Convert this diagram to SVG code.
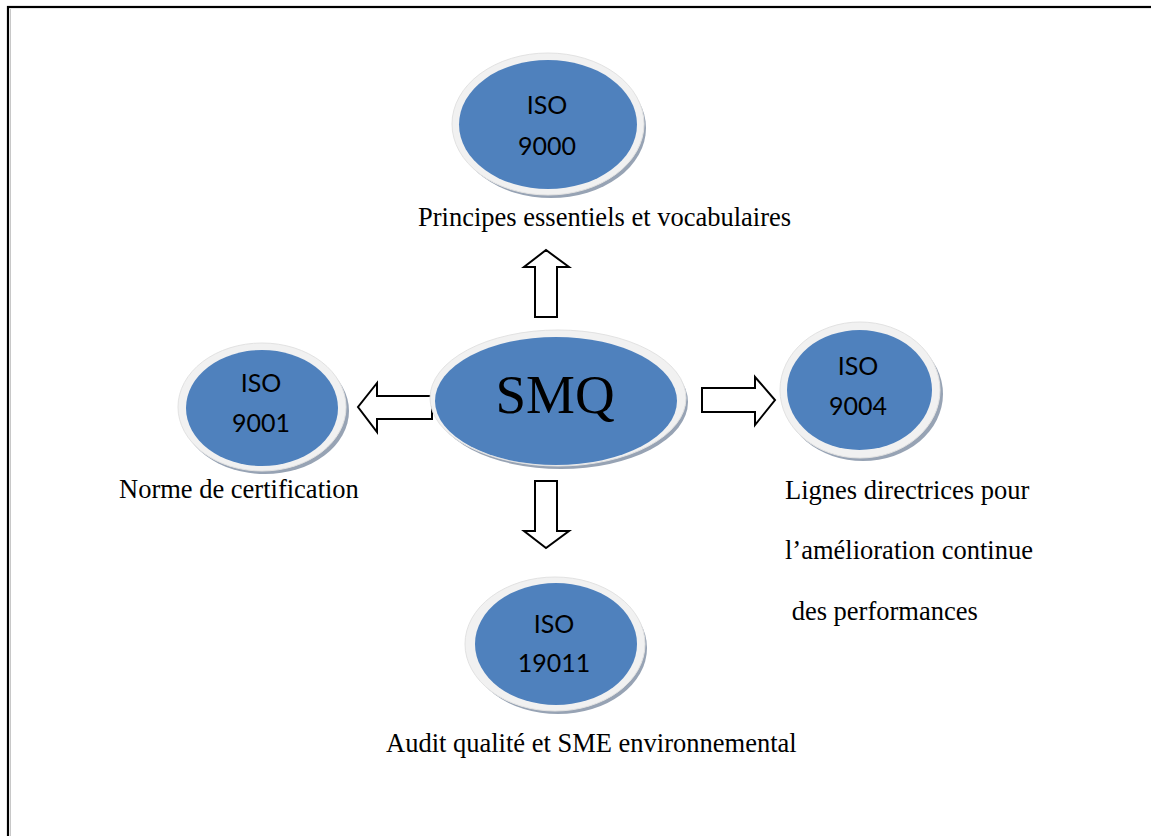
<svg xmlns="http://www.w3.org/2000/svg" width="1151" height="836" viewBox="0 0 1151 836">
  <style>
    .shadow { fill: #97a3b4; }
    .rim { fill: #f1f1f1; stroke: #e2e2e2; stroke-width: 1; }
    .core { fill: #4f81bd; }
    .iso { font-family: Lato, "Open Sans", sans-serif; font-size: 25px; fill: #000; text-anchor: middle; }
    .lbl { font-family: "Liberation Serif", "Times New Roman", serif; font-size: 26.5px; fill: #000; }
    .big { font-family: "Liberation Serif", "Times New Roman", serif; font-size: 55px; fill: #000; text-anchor: middle; }
    .arrow { fill: #fff; stroke: #000; stroke-width: 2; stroke-linejoin: miter; }
  </style>

  <rect width="1151" height="836" fill="#fff"/>
  <!-- page frame -->
  <line x1="10.5" y1="9" x2="10.5" y2="836" stroke="#c8c8c8" stroke-width="1"/>
  <rect x="8" y="7" width="1160" height="860" fill="none" stroke="#000" stroke-width="2.2"/>

  <!-- connectors: block arrows from the centre -->
  <g id="connectors">
    <path class="arrow" d="M535,317 L535,267 L524,267 L546,250 L569,267 L557,267 L557,317 Z"/>
    <path class="arrow" d="M535,481 L535,531 L524,531 L546,548 L569,531 L557,531 L557,481 Z"/>
    <path class="arrow" d="M432,396 L377,396 L377,383 L358,407 L377,432 L377,419 L432,419 Z"/>
    <path class="arrow" d="M702,388 L755,388 L755,377 L775,400 L755,425 L755,412 L702,412 Z"/>
  </g>

  <g id="smq">
    <ellipse class="shadow" cx="561" cy="402" rx="127" ry="67"/>
    <ellipse class="rim" cx="558" cy="398" rx="128" ry="68"/>
    <ellipse class="core" cx="556" cy="401" rx="121" ry="64"/>
    <text class="big" x="555" y="413">SMQ</text>
  </g>

  <g id="iso9000">
    <ellipse class="shadow" cx="551" cy="128" rx="95" ry="70"/>
    <ellipse class="rim" cx="548" cy="124" rx="96" ry="71"/>
    <ellipse class="core" cx="548" cy="124.5" rx="89" ry="64.5"/>
    <text class="iso" x="547" y="114">ISO</text>
    <text class="iso" x="547" y="155">9000</text>
    <text class="lbl" x="418" y="226">Principes essentiels et vocabulaires</text>
  </g>

  <g id="iso9001">
    <ellipse class="shadow" cx="265" cy="411" rx="84" ry="63"/>
    <ellipse class="rim" cx="262" cy="407" rx="84" ry="64"/>
    <ellipse class="core" cx="262" cy="408" rx="76" ry="58"/>
    <text class="iso" x="261" y="392">ISO</text>
    <text class="iso" x="261" y="432">9001</text>
    <text class="lbl" x="119" y="498">Norme de certification</text>
  </g>

  <g id="iso9004">
    <ellipse class="shadow" cx="863" cy="394" rx="80" ry="67"/>
    <ellipse class="rim" cx="860" cy="390" rx="80" ry="68"/>
    <ellipse class="core" cx="859.5" cy="390" rx="72.5" ry="60"/>
    <text class="iso" x="858" y="375">ISO</text>
    <text class="iso" x="858" y="415">9004</text>
    <text class="lbl" x="785" y="499">Lignes directrices pour</text>
    <text class="lbl" x="785" y="559">l’amélioration continue</text>
    <text class="lbl" x="785" y="620" xml:space="preserve"> des performances</text>
  </g>

  <g id="iso19011">
    <ellipse class="shadow" cx="558" cy="648" rx="89" ry="66"/>
    <ellipse class="rim" cx="555" cy="644" rx="90" ry="67"/>
    <ellipse class="core" cx="556" cy="644" rx="81" ry="61"/>
    <text class="iso" x="554" y="633">ISO</text>
    <text class="iso" x="554" y="672">19011</text>
    <text class="lbl" x="386" y="752">Audit qualité et SME environnemental</text>
  </g>
</svg>
